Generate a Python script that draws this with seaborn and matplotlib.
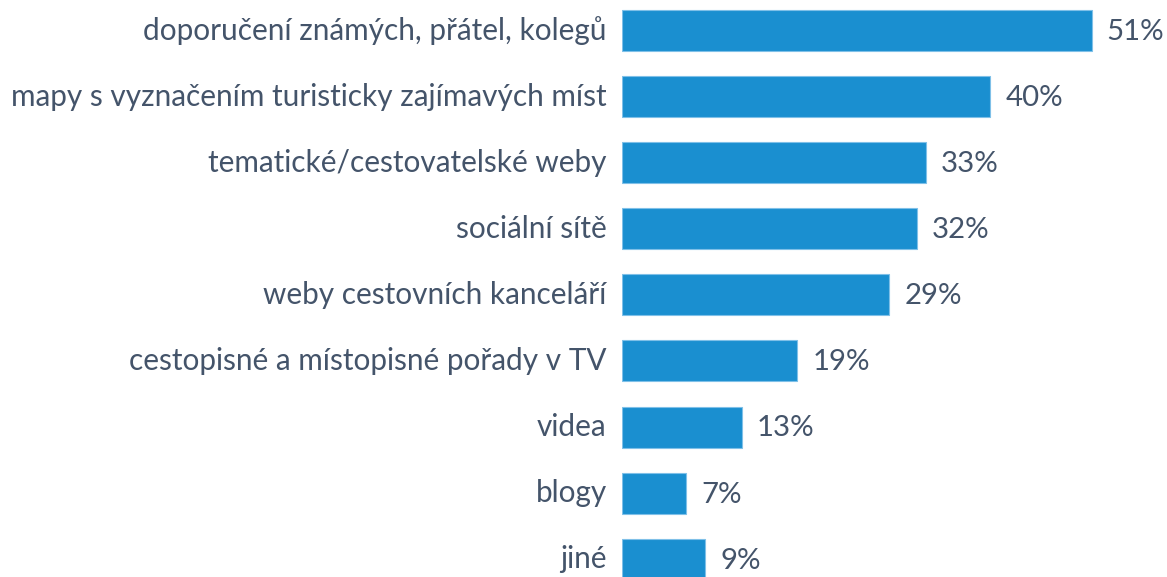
import matplotlib
matplotlib.use("Agg")
import matplotlib.pyplot as plt
import seaborn as sns
import pandas as pd

# DATA

categories = [
    "doporučení známých, přátel, kolegů",
    "mapy s vyznačením turisticky zajímavých míst",
    "tematické/cestovatelské weby",
    "sociální sítě",
    "weby cestovních kanceláří",
    "cestopisné a místopisné pořady v TV",
    "videa",
    "blogy",
    "jiné",
]
values = [51, 40, 33, 32, 29, 19, 13, 7, 9]
value_labels = [f"{v}%" for v in values]

df = pd.DataFrame({"kategorie": categories, "podil": values})

BAR_COLOR = "#1a8fd0"
TEXT_COLOR = "#44546a"

sns.set_theme(style="white")
plt.rcParams["font.family"] = ["Lato", "DejaVu Sans"]

fig = plt.figure(figsize=(11.67, 5.77), dpi=100)
ax = fig.add_axes([0.533, 0.0, 0.467, 1.0])

sns.barplot(data=df, x="podil", y="kategorie", color=BAR_COLOR, saturation=1,
            width=0.62, edgecolor="#7fc0e8", linewidth=0.8, ax=ax)

ax.set_xlim(0, 59.2)
ax.set_ylim(8.268, -0.461)

for i, (v, lab) in enumerate(zip(values, value_labels)):
    ax.annotate(lab, (v, i), xytext=(11, -1), textcoords="offset points",
                va="center", ha="left", fontsize=21.2, color=TEXT_COLOR)

ax.set_xlabel("")
ax.set_ylabel("")
ax.set_xticks([])
ax.tick_params(axis="y", length=0, pad=11, labelsize=21.4, labelcolor=TEXT_COLOR)
for t in ax.get_yticklabels():
    t.set_va("center")
sns.despine(ax=ax, left=True, bottom=True)

fig.savefig("out.png", dpi=100)
